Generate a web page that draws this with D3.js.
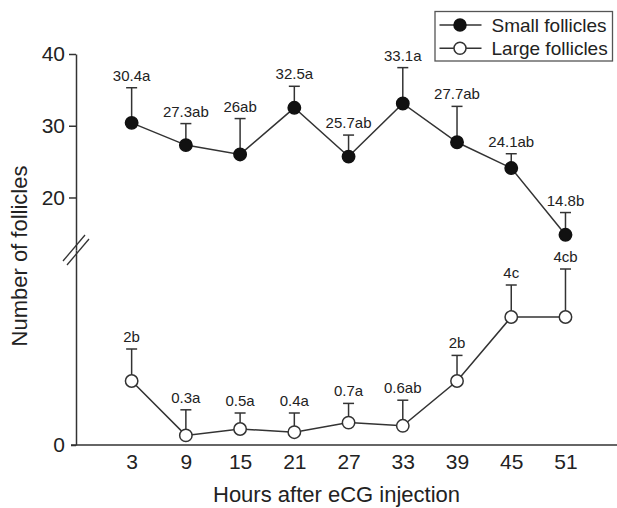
<!DOCTYPE html>
<html><head><meta charset="utf-8">
<script src="https://cdn.jsdelivr.net/npm/d3@7"></script>
<style>
html,body{margin:0;padding:0;background:#fff;}
svg{display:block;font-family:"Liberation Sans",Arial,sans-serif;}
</style></head>
<body>
<svg id="chart" width="617" height="508"></svg>
<script>
const hours = [3, 9, 15, 21, 27, 33, 39, 45, 51];
const smallMean = [30.4, 27.3, 26, 32.5, 25.7, 33.1, 27.7, 24.1, 14.8];
const smallSE = [4.9, 3.0, 5.0, 3.0, 3.0, 5.0, 5.0, 2.0, 3.1];
const smallLabels = ["30.4a","27.3ab","26ab","32.5a","25.7ab","33.1a","27.7ab","24.1ab","14.8b"];
const largeMean = [2, 0.3, 0.5, 0.4, 0.7, 0.6, 2, 4, 4];
const largeSE = [1.0, 0.8, 0.5, 0.6, 0.6, 0.8, 0.8, 1.0, 1.5];
const largeLabels = ["2b","0.3a","0.5a","0.4a","0.7a","0.6ab","2b","4c","4cb"];
const upperTicks = [20, 30, 40];
const lowerTicks = [0];
const seriesNames = ["Small follicles", "Large follicles"];

const svg = d3.select("#chart");
const ink = "#333";
const axisX = 76, breakY = 250, baseY = 445;

const x = d3.scaleLinear().domain([-3.2, 56.7]).range([75.6, 617]);
const yU = d3.scaleLinear().domain([12.68, 40]).range([breakY, 54]);
const yL = d3.scaleLinear().domain([0, 6.094]).range([baseY, breakY]);

function styleAxis(g){
  g.selectAll("path.domain").attr("stroke", ink).attr("stroke-width", 1.5);
  g.selectAll(".tick line").attr("stroke", ink).attr("stroke-width", 1.5);
  g.selectAll(".tick text").attr("fill", "#222").style("font-size", "21px")
    .style("font-family", '"Liberation Sans",Arial,sans-serif');
}

// y axes (upper and lower segments)
svg.append("g").attr("transform", `translate(${axisX},0)`)
  .call(d3.axisLeft(yU).tickValues(upperTicks).tickFormat(d3.format("d")).tickSize(7).tickSizeOuter(0).tickPadding(4))
  .call(styleAxis);
svg.append("g").attr("transform", `translate(${axisX},0)`)
  .call(d3.axisLeft(yL).tickValues(lowerTicks).tickFormat(d3.format("d")).tickSize(5).tickSizeOuter(0).tickPadding(6))
  .call(styleAxis);

// x axis
const xa = svg.append("g").attr("transform", `translate(0,${baseY})`)
  .call(d3.axisBottom(x).tickValues(hours).tickFormat(d3.format("d")).tickSize(0).tickSizeOuter(0).tickPadding(9))
  .call(styleAxis);
xa.select("path.domain").attr("d", `M${axisX - 5},0H617`);

// break marks
[-2, 2].forEach(o => {
  svg.append("line").attr("x1", axisX - 11 + o).attr("y1", breakY + 13 + o)
    .attr("x2", axisX + 11 + o).attr("y2", breakY - 13 + o)
    .attr("stroke", ink).attr("stroke-width", 1.3);
});

function drawSeries(means, se, labels, y, filled){
  const g = svg.append("g");
  const line = d3.line().x((d,i)=>x(hours[i])).y(d=>y(d));
  g.append("path").datum(means).attr("d", line).attr("fill","none")
    .attr("stroke", ink).attr("stroke-width", 1.5);
  means.forEach((m,i)=>{
    const cx = x(hours[i]), top = y(m + se[i]);
    g.append("line").attr("x1",cx).attr("x2",cx).attr("y1",y(m)).attr("y2",top)
      .attr("stroke", ink).attr("stroke-width",1.5);
    g.append("line").attr("x1",cx-5.5).attr("x2",cx+5.5).attr("y1",top).attr("y2",top)
      .attr("stroke", ink).attr("stroke-width",1.5);
    g.append("text").attr("x",cx).attr("y",top-7).attr("text-anchor","middle")
      .attr("fill","#222").style("font-size","15px").text(labels[i]);
  });
  means.forEach((m,i)=>{
    g.append("circle").attr("cx",x(hours[i])).attr("cy",y(m)).attr("r",6.2)
      .attr("fill", filled ? "#111" : "#fff").attr("stroke", filled ? "#111" : ink)
      .attr("stroke-width",1.5);
  });
}
drawSeries(smallMean, smallSE, smallLabels, yU, true);
drawSeries(largeMean, largeSE, largeLabels, yL, false);

// axis titles
svg.append("text").attr("x", 336.5).attr("y", 502).attr("text-anchor","middle")
  .attr("fill","#222").style("font-size","22px").text("Hours after eCG injection");
svg.append("text").attr("transform","translate(27,256) rotate(-90)").attr("text-anchor","middle")
  .attr("fill","#222").style("font-size","22px").text("Number of follicles");

// legend
const lg = svg.append("g");
lg.append("rect").attr("x",435).attr("y",11.5).attr("width",177.5).attr("height",49.5)
  .attr("fill","#fff").attr("stroke","#555").attr("stroke-width",1.3);
seriesNames.forEach((name,i)=>{
  const ly = 25 + i*23.3;
  lg.append("line").attr("x1",439.5).attr("x2",481.5).attr("y1",ly).attr("y2",ly)
    .attr("stroke", ink).attr("stroke-width",1.5);
  lg.append("circle").attr("cx",460).attr("cy",ly).attr("r",6)
    .attr("fill", i===0 ? "#111" : "#fff").attr("stroke", i===0 ? "#111" : ink).attr("stroke-width",1.5);
  lg.append("text").attr("x",491.5).attr("y",ly+7).attr("fill","#222")
    .style("font-size","19px").text(name);
});
</script>
</body></html>
